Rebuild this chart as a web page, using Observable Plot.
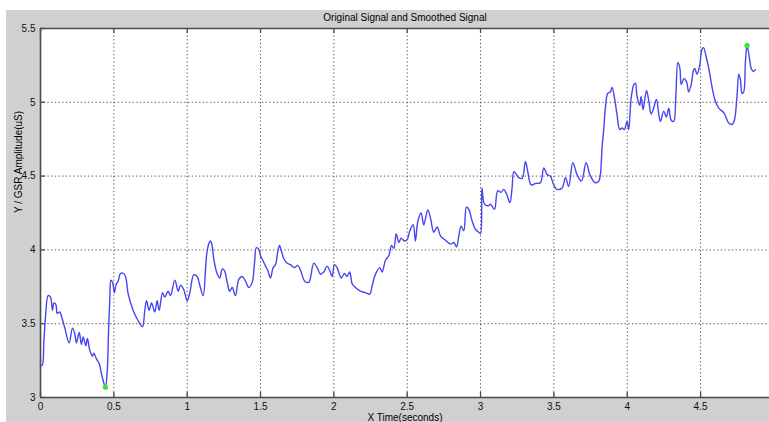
<!DOCTYPE html>
<html>
<head>
<meta charset="utf-8">
<script src="https://cdn.jsdelivr.net/npm/d3@7"></script>
<script src="https://cdn.jsdelivr.net/npm/@observablehq/plot@0.6"></script>
<style>
  html, body { margin: 0; padding: 0; background: #ffffff; }
  #chart { position: absolute; left: 6px; top: 10px; width: 763px; height: 412px; background: #d0d0d0; }
</style>
</head>
<body>
<div id="chart"></div>
<script>
// GSR recording: time (s) and smoothed amplitude (uS)
const times = [
  0, 0.012, 0.023, 0.036, 0.052, 0.068, 0.082, 0.091, 0.105, 0.114, 0.132, 0.143, 0.166, 0.195,
  0.218, 0.234, 0.245, 0.264, 0.279, 0.291, 0.309, 0.320, 0.336, 0.354, 0.364, 0.382, 0.400, 0.416,
  0.427, 0.443, 0.455, 0.464, 0.473, 0.480, 0.491, 0.504, 0.514, 0.530, 0.545, 0.568, 0.582, 0.598,
  0.632, 0.666, 0.695, 0.711, 0.723, 0.741, 0.757, 0.779, 0.795, 0.809, 0.832, 0.847, 0.870, 0.886,
  0.916, 0.939, 0.954, 0.977, 1.000, 1.018, 1.045, 1.068, 1.086, 1.109, 1.125, 1.132, 1.147, 1.159,
  1.170, 1.181, 1.204, 1.222, 1.239, 1.254, 1.273, 1.290, 1.307, 1.329, 1.352, 1.375, 1.397, 1.420,
  1.443, 1.459, 1.472, 1.488, 1.500, 1.518, 1.534, 1.550, 1.568, 1.586, 1.602, 1.618, 1.629, 1.643,
  1.659, 1.682, 1.704, 1.731, 1.754, 1.777, 1.800, 1.829, 1.863, 1.886, 1.909, 1.931, 1.954, 1.972,
  1.988, 2.004, 2.022, 2.050, 2.072, 2.090, 2.108, 2.125, 2.147, 2.181, 2.215, 2.245, 2.261, 2.284,
  2.313, 2.329, 2.352, 2.375, 2.393, 2.409, 2.425, 2.443, 2.459, 2.481, 2.500, 2.518, 2.541, 2.556,
  2.572, 2.595, 2.613, 2.640, 2.658, 2.681, 2.704, 2.727, 2.761, 2.795, 2.818, 2.836, 2.852, 2.868,
  2.886, 2.904, 2.920, 2.943, 2.965, 2.988, 3.000, 3.010, 3.027, 3.056, 3.067, 3.095, 3.117, 3.140,
  3.158, 3.177, 3.200, 3.215, 3.227, 3.245, 3.260, 3.284, 3.306, 3.322, 3.345, 3.374, 3.408, 3.431,
  3.454, 3.476, 3.499, 3.522, 3.556, 3.579, 3.601, 3.629, 3.658, 3.688, 3.720, 3.749, 3.783, 3.806,
  3.817, 3.829, 3.840, 3.851, 3.867, 3.885, 3.897, 3.913, 3.930, 3.949, 3.965, 3.980, 3.999, 4.010,
  4.027, 4.045, 4.056, 4.067, 4.085, 4.095, 4.108, 4.131, 4.147, 4.163, 4.180, 4.199, 4.215, 4.226,
  4.249, 4.267, 4.283, 4.299, 4.317, 4.331, 4.345, 4.359, 4.368, 4.386, 4.404, 4.419, 4.436, 4.450,
  4.460, 4.476, 4.494, 4.510, 4.520, 4.540, 4.556, 4.579, 4.600, 4.624, 4.658, 4.692, 4.715, 4.731,
  4.749, 4.760, 4.772, 4.783, 4.794, 4.806, 4.817, 4.833, 4.845, 4.858, 4.874
];
const gsr = [
  3.216, 3.22, 3.385, 3.57, 3.69, 3.68, 3.59, 3.64, 3.63, 3.57, 3.58, 3.55, 3.47, 3.37,
  3.47, 3.43, 3.37, 3.44, 3.36, 3.41, 3.35, 3.40, 3.32, 3.28, 3.30, 3.26, 3.23, 3.16,
  3.115, 3.07, 3.18, 3.45, 3.68, 3.795, 3.78, 3.71, 3.76, 3.79, 3.84, 3.84, 3.81, 3.70,
  3.59, 3.52, 3.48, 3.59, 3.655, 3.59, 3.64, 3.58, 3.655, 3.59, 3.71, 3.68, 3.72, 3.69,
  3.795, 3.72, 3.76, 3.73, 3.655, 3.71, 3.83, 3.82, 3.76, 3.69, 3.87, 3.96, 4.04, 4.06,
  4.03, 3.94, 3.84, 3.81, 3.87, 3.86, 3.78, 3.72, 3.745, 3.69, 3.80, 3.82, 3.79, 3.745,
  3.78, 3.91, 4.015, 4.005, 3.96, 3.925, 3.89, 3.86, 3.81, 3.88, 3.90, 3.99, 4.03, 3.99,
  3.94, 3.91, 3.90, 3.88, 3.895, 3.85, 3.79, 3.78, 3.91, 3.88, 3.835, 3.85, 3.89, 3.86,
  3.82, 3.90, 3.88, 3.81, 3.84, 3.82, 3.85, 3.77, 3.745, 3.72, 3.71, 3.70, 3.757, 3.836,
  3.88, 3.85, 3.93, 3.96, 4.03, 4.01, 4.11, 4.05, 4.08, 4.06, 4.07, 4.13, 4.17, 4.06,
  4.19, 4.25, 4.17, 4.27, 4.22, 4.12, 4.155, 4.095, 4.065, 4.04, 4.05, 4.02, 4.095, 4.16,
  4.13, 4.29, 4.275, 4.195, 4.14, 4.12, 4.11, 4.42, 4.31, 4.30, 4.31, 4.275, 4.40, 4.39,
  4.41, 4.38, 4.32, 4.42, 4.53, 4.51, 4.49, 4.485, 4.60, 4.53, 4.44, 4.45, 4.455, 4.556,
  4.51, 4.50, 4.44, 4.41, 4.42, 4.49, 4.43, 4.59, 4.51, 4.466, 4.59, 4.50, 4.455, 4.466,
  4.51, 4.70, 4.815, 4.96, 5.06, 5.07, 5.10, 5.03, 4.92, 4.815, 4.826, 4.815, 4.87, 4.815,
  5.03, 5.12, 5.13, 5.04, 4.98, 5.04, 4.95, 5.08, 5.01, 4.92, 4.96, 5.02, 4.92, 4.87,
  4.94, 4.90, 4.96, 4.88, 4.87, 5.03, 5.27, 5.23, 5.12, 5.16, 5.14, 5.07, 5.12, 5.21,
  5.23, 5.19, 5.25, 5.36, 5.37, 5.30, 5.23, 5.10, 5.01, 4.96, 4.93, 4.86, 4.85, 4.88,
  5.05, 5.19, 5.15, 5.06, 5.07, 5.28, 5.385, 5.30, 5.23, 5.21, 5.22
];
const xTicks = [0, 0.5, 1, 1.5, 2, 2.5, 3, 3.5, 4, 4.5];
const yTicks = [3, 3.5, 4, 4.5, 5, 5.5];
const titleText = "Original Signal and Smoothed Signal";
const xLabel = "X Time(seconds)";
const yLabel = "Y / GSR Amplitude(uS)";

const signal = times.map((t, i) => ({t, v: gsr[i]}));
// lowest and highest samples are marked in green
const extremes = [signal[d3.minIndex(gsr)], signal[d3.maxIndex(gsr)]];

const W = 763, H = 412;
const mL = 34, mT = 18, mR = 0, mB = 25;
const plotW = W - mL - mR, plotH = H - mT - mB;
const frameColor = "#4a4a4a";
const gridColor = "#3a3a3a";
const fmt = d3.format("~g");

const chart = Plot.plot({
  width: W,
  height: H,
  marginLeft: mL, marginTop: mT, marginRight: mR, marginBottom: mB,
  style: {background: "#d0d0d0", fontFamily: "'Liberation Sans', Arial, sans-serif", fontSize: "10px", color: "#000", overflow: "visible"},
  x: {domain: [0, 4.97], label: null},
  y: {domain: [3, 5.5], label: null},
  marks: [
    Plot.frame({fill: "white", stroke: null}),
    Plot.gridX(xTicks.slice(1), {stroke: gridColor, strokeOpacity: 0.85, strokeWidth: 1, strokeDasharray: "1.3,2.4"}),
    Plot.gridY(yTicks.slice(1, -1), {stroke: gridColor, strokeOpacity: 0.85, strokeWidth: 1, strokeDasharray: "1.3,2.4"}),
    // inward tick marks on bottom, top and left edges
    Plot.ruleX(xTicks, {x: d => d, insetTop: plotH - 5, stroke: frameColor, strokeWidth: 1.3}),
    Plot.ruleX(xTicks, {x: d => d, insetBottom: plotH - 5, stroke: frameColor, strokeWidth: 1.3}),
    Plot.ruleY(yTicks, {y: d => d, insetRight: plotW - 5, stroke: frameColor, strokeWidth: 1.3}),
    // axes box (top, bottom, left)
    Plot.ruleY([3], {stroke: frameColor, strokeWidth: 1.6}),
    Plot.ruleY([5.5], {stroke: frameColor, strokeWidth: 1.6}),
    Plot.ruleX([0], {stroke: frameColor, strokeWidth: 1.6}),
    Plot.line(signal, {x: "t", y: "v", stroke: "#4646ee", strokeWidth: 1.4, curve: "catmull-rom"}),
    Plot.dot(extremes, {x: "t", y: "v", fill: "#44dd44", stroke: null, r: 2.6}),
    Plot.axisX(xTicks, {tickSize: 0, tickPadding: 5, tickFormat: fmt, label: null, fill: "#111"}),
    Plot.axisY(yTicks, {tickSize: 0, tickPadding: 5, tickFormat: fmt, label: null, fill: "#111"}),
    Plot.text([titleText], {frameAnchor: "top", lineAnchor: "middle", dy: -11, fontSize: 10, fill: "#000"}),
    Plot.text([xLabel], {frameAnchor: "bottom", lineAnchor: "middle", dy: 20, fontSize: 10, fill: "#000"}),
    Plot.text([yLabel], {frameAnchor: "left", dx: -22, rotate: -90, fontSize: 10, fill: "#000"})
  ]
});

document.getElementById("chart").appendChild(chart);
</script>
</body>
</html>
